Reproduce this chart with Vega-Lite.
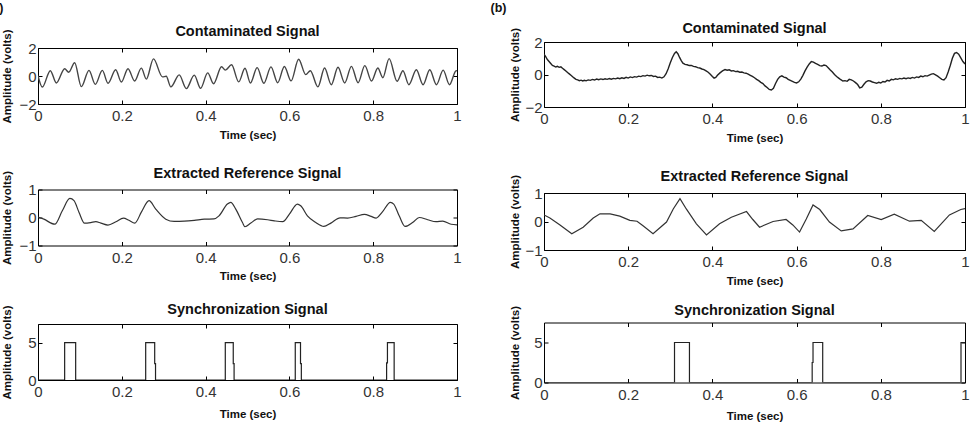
{
  "$schema": "https://vega.github.io/schema/vega-lite/v6.json",
  "padding": {"left": -12, "top": 0, "right": 0, "bottom": 0},
  "background": "#ffffff",
  "config": {
    "view": {"stroke": "#000000", "strokeWidth": 1},
    "axis": {"domain": false, "grid": false, "ticks": true, "tickSize": -4, "tickColor": "#000000", "tickWidth": 1, "minExtent": 0,
      "labelFont": "Liberation Sans", "labelFontSize": 15, "labelColor": "#333333", "labelFlush": false, "labelOverlap": false,
      "titleFont": "Liberation Sans", "titleFontSize": 11.5, "titleFontWeight": "bold", "titleColor": "#111111"},
    "axisX": {"labelPadding": 8.5, "titlePadding": 5.5},
    "axisY": {"labelPadding": 6, "titlePadding": 4},
    "title": {"font": "Liberation Sans", "fontSize": 14.5, "fontWeight": "bold", "color": "#111111"}
  },
  "datasets": {
    "ca": [
      {"t":0,"v":0.02},{"t":0.0103,"v":-0.79},{"t":0.0294,"v":0.38},{"t":0.0438,"v":-0.5},{"t":0.0636,"v":0.52},{"t":0.0732,"v":0.27},{"t":0.0875,"v":0.95},{"t":0.1034,"v":-0.76},{"t":0.1217,"v":0.4},{"t":0.1368,"v":-0.6},{"t":0.1535,"v":0.4},{"t":0.1671,"v":-0.52},{"t":0.1854,"v":0.45},{"t":0.1989,"v":-0.43},{"t":0.2148,"v":0.52},{"t":0.2307,"v":-0.36},{"t":0.2466,"v":0.56},{"t":0.2586,"v":-0.22},{"t":0.2755,"v":1.22},{"t":0.297,"v":-0.06},{"t":0.306,"v":-0.02},{"t":0.317,"v":-0.78},{"t":0.337,"v":0.08},{"t":0.354,"v":-0.9},{"t":0.373,"v":0.06},{"t":0.388,"v":-0.88},{"t":0.405,"v":0.22},{"t":0.419,"v":-0.55},{"t":0.438,"v":0.66},{"t":0.447,"v":0.42},{"t":0.462,"v":0.8},{"t":0.479,"v":-0.42},{"t":0.494,"v":0.55},{"t":0.507,"v":-0.5},{"t":0.523,"v":0.6},{"t":0.539,"v":-0.52},{"t":0.556,"v":0.65},{"t":0.572,"v":-0.48},{"t":0.588,"v":0.68},{"t":0.604,"v":-0.35},{"t":0.622,"v":1.2},{"t":0.639,"v":0.1},{"t":0.65,"v":0.38},{"t":0.668,"v":-0.78},{"t":0.684,"v":0.57},{"t":0.7,"v":-0.62},{"t":0.716,"v":0.62},{"t":0.732,"v":-0.5},{"t":0.748,"v":0.69},{"t":0.764,"v":-0.48},{"t":0.78,"v":0.74},{"t":0.796,"v":-0.36},{"t":0.811,"v":0.57},{"t":0.823,"v":-0.12},{"t":0.838,"v":1.24},{"t":0.857,"v":-0.38},{"t":0.871,"v":0.38},{"t":0.885,"v":-0.62},{"t":0.903,"v":0.45},{"t":0.919,"v":-0.62},{"t":0.935,"v":0.45},{"t":0.951,"v":-0.62},{"t":0.967,"v":0.42},{"t":0.982,"v":-0.62},{"t":0.998,"v":0.38},{"t":1,"v":0.36}
    ],
    "cb": [
      {"t":0,"v":1.25},{"t":0.004,"v":1.1},{"t":0.008,"v":0.92},{"t":0.012,"v":0.8},{"t":0.016,"v":0.68},{"t":0.02,"v":0.56},{"t":0.024,"v":0.52},{"t":0.028,"v":0.46},{"t":0.032,"v":0.5},{"t":0.036,"v":0.44},{"t":0.04,"v":0.47},{"t":0.044,"v":0.38},{"t":0.048,"v":0.3},{"t":0.052,"v":0.22},{"t":0.056,"v":0.12},{"t":0.06,"v":0.04},{"t":0.064,"v":-0.05},{"t":0.068,"v":-0.14},{"t":0.072,"v":-0.22},{"t":0.076,"v":-0.3},{"t":0.08,"v":-0.33},{"t":0.084,"v":-0.38},{"t":0.088,"v":-0.35},{"t":0.092,"v":-0.4},{"t":0.096,"v":-0.36},{"t":0.1,"v":-0.39},{"t":0.105,"v":-0.33},{"t":0.11,"v":-0.36},{"t":0.115,"v":-0.3},{"t":0.12,"v":-0.34},{"t":0.125,"v":-0.28},{"t":0.13,"v":-0.32},{"t":0.135,"v":-0.27},{"t":0.14,"v":-0.31},{"t":0.145,"v":-0.26},{"t":0.15,"v":-0.3},{"t":0.155,"v":-0.25},{"t":0.16,"v":-0.29},{"t":0.165,"v":-0.24},{"t":0.17,"v":-0.27},{"t":0.175,"v":-0.22},{"t":0.18,"v":-0.26},{"t":0.185,"v":-0.2},{"t":0.19,"v":-0.24},{"t":0.195,"v":-0.17},{"t":0.2,"v":-0.22},{"t":0.205,"v":-0.15},{"t":0.21,"v":-0.19},{"t":0.215,"v":-0.13},{"t":0.22,"v":-0.16},{"t":0.225,"v":-0.1},{"t":0.23,"v":-0.13},{"t":0.235,"v":-0.07},{"t":0.24,"v":-0.1},{"t":0.245,"v":-0.04},{"t":0.25,"v":-0.08},{"t":0.255,"v":-0.06},{"t":0.26,"v":-0.12},{"t":0.265,"v":-0.1},{"t":0.27,"v":-0.18},{"t":0.275,"v":-0.16},{"t":0.28,"v":-0.22},{"t":0.285,"v":-0.14},{"t":0.29,"v":0.05},{"t":0.295,"v":0.35},{"t":0.3,"v":0.72},{"t":0.305,"v":1.05},{"t":0.31,"v":1.3},{"t":0.314,"v":1.4},{"t":0.318,"v":1.28},{"t":0.322,"v":1.05},{"t":0.326,"v":0.85},{"t":0.33,"v":0.7},{"t":0.335,"v":0.62},{"t":0.34,"v":0.6},{"t":0.345,"v":0.55},{"t":0.35,"v":0.56},{"t":0.355,"v":0.5},{"t":0.36,"v":0.48},{"t":0.365,"v":0.42},{"t":0.37,"v":0.4},{"t":0.375,"v":0.34},{"t":0.38,"v":0.3},{"t":0.385,"v":0.22},{"t":0.39,"v":0.14},{"t":0.395,"v":0.02},{"t":0.4,"v":-0.12},{"t":0.404,"v":-0.22},{"t":0.408,"v":-0.18},{"t":0.412,"v":-0.05},{"t":0.418,"v":0.1},{"t":0.424,"v":0.22},{"t":0.43,"v":0.3},{"t":0.435,"v":0.26},{"t":0.44,"v":0.29},{"t":0.445,"v":0.22},{"t":0.45,"v":0.24},{"t":0.455,"v":0.18},{"t":0.46,"v":0.2},{"t":0.465,"v":0.14},{"t":0.47,"v":0.15},{"t":0.475,"v":0.1},{"t":0.48,"v":0.08},{"t":0.485,"v":0.02},{"t":0.49,"v":-0.05},{"t":0.495,"v":-0.12},{"t":0.5,"v":-0.2},{"t":0.505,"v":-0.3},{"t":0.51,"v":-0.38},{"t":0.515,"v":-0.48},{"t":0.52,"v":-0.56},{"t":0.525,"v":-0.7},{"t":0.53,"v":-0.8},{"t":0.535,"v":-0.92},{"t":0.54,"v":-0.95},{"t":0.545,"v":-0.85},{"t":0.55,"v":-0.55},{"t":0.555,"v":-0.3},{"t":0.56,"v":-0.14},{"t":0.565,"v":-0.08},{"t":0.57,"v":-0.16},{"t":0.575,"v":-0.2},{"t":0.58,"v":-0.3},{"t":0.585,"v":-0.36},{"t":0.59,"v":-0.42},{"t":0.595,"v":-0.48},{"t":0.6,"v":-0.52},{"t":0.605,"v":-0.45},{"t":0.61,"v":-0.28},{"t":0.615,"v":-0.05},{"t":0.62,"v":0.22},{"t":0.625,"v":0.45},{"t":0.63,"v":0.65},{"t":0.635,"v":0.8},{"t":0.64,"v":0.76},{"t":0.645,"v":0.68},{"t":0.65,"v":0.62},{"t":0.655,"v":0.55},{"t":0.66,"v":0.52},{"t":0.665,"v":0.58},{"t":0.67,"v":0.55},{"t":0.675,"v":0.42},{"t":0.68,"v":0.28},{"t":0.685,"v":0.15},{"t":0.69,"v":0},{"t":0.695,"v":-0.12},{"t":0.7,"v":-0.22},{"t":0.705,"v":-0.32},{"t":0.71,"v":-0.4},{"t":0.715,"v":-0.38},{"t":0.72,"v":-0.42},{"t":0.725,"v":-0.3},{"t":0.73,"v":-0.33},{"t":0.735,"v":-0.4},{"t":0.74,"v":-0.5},{"t":0.745,"v":-0.62},{"t":0.75,"v":-0.82},{"t":0.755,"v":-0.78},{"t":0.76,"v":-0.6},{"t":0.765,"v":-0.45},{"t":0.77,"v":-0.38},{"t":0.775,"v":-0.4},{"t":0.78,"v":-0.46},{"t":0.785,"v":-0.5},{"t":0.79,"v":-0.54},{"t":0.795,"v":-0.48},{"t":0.8,"v":-0.52},{"t":0.805,"v":-0.43},{"t":0.81,"v":-0.46},{"t":0.815,"v":-0.36},{"t":0.82,"v":-0.4},{"t":0.825,"v":-0.3},{"t":0.83,"v":-0.33},{"t":0.835,"v":-0.26},{"t":0.84,"v":-0.3},{"t":0.845,"v":-0.24},{"t":0.85,"v":-0.27},{"t":0.855,"v":-0.22},{"t":0.86,"v":-0.26},{"t":0.865,"v":-0.21},{"t":0.87,"v":-0.24},{"t":0.875,"v":-0.18},{"t":0.88,"v":-0.22},{"t":0.885,"v":-0.15},{"t":0.89,"v":-0.18},{"t":0.895,"v":-0.1},{"t":0.9,"v":-0.14},{"t":0.905,"v":-0.07},{"t":0.91,"v":-0.1},{"t":0.915,"v":-0.04},{"t":0.92,"v":0.02},{"t":0.925,"v":0.05},{"t":0.93,"v":-0.02},{"t":0.935,"v":-0.1},{"t":0.94,"v":-0.2},{"t":0.945,"v":-0.3},{"t":0.95,"v":-0.34},{"t":0.955,"v":-0.2},{"t":0.96,"v":0.15},{"t":0.965,"v":0.55},{"t":0.97,"v":1},{"t":0.975,"v":1.3},{"t":0.98,"v":1.35},{"t":0.985,"v":1.25},{"t":0.99,"v":1.02},{"t":0.995,"v":0.8},{"t":1,"v":0.65}
    ],
    "ra": [
      {"t":0,"v":0.02},{"t":0.014,"v":-0.06},{"t":0.04,"v":-0.24},{"t":0.058,"v":0.24},{"t":0.076,"v":0.68},{"t":0.086,"v":0.6},{"t":0.098,"v":0.18},{"t":0.111,"v":-0.2},{"t":0.126,"v":-0.18},{"t":0.138,"v":-0.15},{"t":0.15,"v":-0.2},{"t":0.167,"v":-0.27},{"t":0.186,"v":-0.15},{"t":0.204,"v":-0.02},{"t":0.217,"v":-0.1},{"t":0.231,"v":-0.2},{"t":0.247,"v":0.2},{"t":0.265,"v":0.6},{"t":0.281,"v":0.3},{"t":0.305,"v":-0.06},{"t":0.325,"v":-0.14},{"t":0.349,"v":-0.13},{"t":0.373,"v":-0.1},{"t":0.397,"v":-0.06},{"t":0.42,"v":-0.05},{"t":0.432,"v":0.06},{"t":0.452,"v":0.48},{"t":0.46,"v":0.54},{"t":0.472,"v":0.3},{"t":0.488,"v":-0.18},{"t":0.494,"v":-0.33},{"t":0.508,"v":-0.2},{"t":0.524,"v":-0.05},{"t":0.548,"v":-0.08},{"t":0.564,"v":-0.12},{"t":0.584,"v":-0.15},{"t":0.6,"v":0.12},{"t":0.619,"v":0.48},{"t":0.627,"v":0.42},{"t":0.643,"v":0.06},{"t":0.663,"v":-0.18},{"t":0.682,"v":-0.32},{"t":0.699,"v":-0.2},{"t":0.721,"v":-0.01},{"t":0.739,"v":-0.02},{"t":0.759,"v":0.04},{"t":0.779,"v":0.11},{"t":0.795,"v":0.04},{"t":0.807,"v":-0.02},{"t":0.822,"v":0.2},{"t":0.841,"v":0.54},{"t":0.849,"v":0.48},{"t":0.862,"v":0.06},{"t":0.876,"v":-0.32},{"t":0.894,"v":-0.18},{"t":0.91,"v":0},{"t":0.93,"v":-0.08},{"t":0.95,"v":-0.15},{"t":0.966,"v":-0.13},{"t":0.986,"v":-0.24},{"t":1,"v":-0.26}
    ],
    "rb": [
      {"t":0,"v":0.23},{"t":0.014,"v":0.12},{"t":0.038,"v":-0.12},{"t":0.066,"v":-0.43},{"t":0.093,"v":-0.2},{"t":0.117,"v":0.12},{"t":0.133,"v":0.27},{"t":0.157,"v":0.27},{"t":0.18,"v":0.19},{"t":0.204,"v":0.04},{"t":0.221,"v":0.01},{"t":0.236,"v":-0.16},{"t":0.259,"v":-0.43},{"t":0.291,"v":-0.02},{"t":0.307,"v":0.44},{"t":0.323,"v":0.8},{"t":0.338,"v":0.44},{"t":0.362,"v":-0.08},{"t":0.386,"v":-0.47},{"t":0.417,"v":-0.08},{"t":0.445,"v":0.15},{"t":0.481,"v":0.35},{"t":0.496,"v":0.07},{"t":0.512,"v":-0.2},{"t":0.544,"v":0},{"t":0.575,"v":0.07},{"t":0.591,"v":-0.12},{"t":0.607,"v":-0.37},{"t":0.623,"v":0.09},{"t":0.639,"v":0.58},{"t":0.655,"v":0.42},{"t":0.678,"v":-0.02},{"t":0.706,"v":-0.33},{"t":0.734,"v":-0.26},{"t":0.769,"v":0.21},{"t":0.801,"v":0.07},{"t":0.832,"v":0.26},{"t":0.868,"v":0.01},{"t":0.896,"v":0.04},{"t":0.927,"v":-0.35},{"t":0.963,"v":0.23},{"t":0.99,"v":0.42},{"t":1,"v":0.45}
    ],
    "sa": [
      {"t":0,"v":0},{"t":0.0636,"v":0},{"t":0.0636,"v":5},{"t":0.0899,"v":5},{"t":0.0899,"v":0},
      {"t":0.257,"v":0},{"t":0.257,"v":5},{"t":0.2785,"v":5},{"t":0.2785,"v":2.2},{"t":0.2805,"v":2.2},{"t":0.2805,"v":0},
      {"t":0.447,"v":0},{"t":0.447,"v":5},{"t":0.466,"v":5},{"t":0.466,"v":2.2},{"t":0.468,"v":2.2},{"t":0.468,"v":0},
      {"t":0.614,"v":0},{"t":0.614,"v":5},{"t":0.6265,"v":5},{"t":0.6265,"v":2.2},{"t":0.6285,"v":2.2},{"t":0.6285,"v":0},
      {"t":0.832,"v":0},{"t":0.832,"v":2.3},{"t":0.834,"v":2.3},{"t":0.834,"v":5},{"t":0.85,"v":5},{"t":0.85,"v":0},
      {"t":1,"v":0}
    ],
    "sb": [
      {"t":0,"v":0},{"t":0.31,"v":0},{"t":0.31,"v":5},{"t":0.3455,"v":5},{"t":0.3455,"v":0},
      {"t":0.637,"v":0},{"t":0.637,"v":2.5},{"t":0.639,"v":2.5},{"t":0.639,"v":5},{"t":0.662,"v":5},{"t":0.662,"v":0},
      {"t":0.9905,"v":0},{"t":0.9905,"v":5},{"t":1,"v":5}
    ]
  },
  "columns": 2,
  "align": "none",
  "spacing": 28,
  "concat": [
    {
      "spacing": 8,
      "vconcat": [
        {
          "width": 1, "height": 1, "view": {"stroke": null},
          "data": {"values": [{"label": "(a)"}]},
          "mark": {"type": "text", "align": "left", "baseline": "top", "dx": -50.4, "dy": 1.5, "font": "Liberation Sans", "fontSize": 12.5, "fontWeight": "bold", "color": "#111111"},
          "encoding": {"text": {"field": "label", "type": "nominal"}}
        },
        {
          "spacing": 24.5,
          "vconcat": [
            {
              "width": 419, "height": 56,
              "title": {"text": "Contaminated Signal", "offset": -10},
              "data": {"name": "ca"},
              "layer": [
                {"mark": {"type": "line", "interpolate": "monotone", "color": "#444444", "strokeWidth": 1.4, "clip": true},
                 "encoding": {
                   "x": {"field": "t", "type": "quantitative", "scale": {"domain": [0, 1], "nice": false, "zero": false}, "axis": {"values": [0, 0.2, 0.4, 0.6, 0.8, 1], "format": "~g", "title": "Time (sec)"}},
                   "y": {"field": "v", "type": "quantitative", "scale": {"domain": [-2, 2], "nice": false}, "axis": {"values": [-2, 0, 2], "format": "~g", "title": "Amplitude (volts)", "titleX": -26}}}},
                {"mark": {"type": "line", "strokeOpacity": 0},
                 "encoding": {
                   "x": {"field": "t", "type": "quantitative", "axis": {"orient": "top", "values": [0, 0.2, 0.4, 0.6, 0.8, 1], "labels": false, "title": null}},
                   "y": {"field": "v", "type": "quantitative", "axis": {"orient": "right", "values": [-2, 0, 2], "labels": false, "title": null}}}}
              ],
              "resolve": {"axis": {"x": "independent", "y": "independent"}}
            },
            {
              "spacing": 18.5,
              "vconcat": [
                {
                  "width": 419, "height": 56,
                  "title": {"text": "Extracted Reference Signal", "offset": -11},
                  "data": {"name": "ra"},
                  "layer": [
                    {"mark": {"type": "line", "interpolate": "monotone", "color": "#333333", "strokeWidth": 1.2, "clip": true},
                     "encoding": {
                       "x": {"field": "t", "type": "quantitative", "scale": {"domain": [0, 1], "nice": false, "zero": false}, "axis": {"values": [0, 0.2, 0.4, 0.6, 0.8, 1], "format": "~g", "title": "Time (sec)"}},
                       "y": {"field": "v", "type": "quantitative", "scale": {"domain": [-1, 1], "nice": false}, "axis": {"values": [-1, 0, 1], "format": "~g", "title": "Amplitude (volts)", "titleX": -26}}}},
                    {"mark": {"type": "line", "strokeOpacity": 0},
                     "encoding": {
                       "x": {"field": "t", "type": "quantitative", "axis": {"orient": "top", "values": [0, 0.2, 0.4, 0.6, 0.8, 1], "labels": false, "title": null}},
                       "y": {"field": "v", "type": "quantitative", "axis": {"orient": "right", "values": [-1, 0, 1], "labels": false, "title": null}}}}
                  ],
                  "resolve": {"axis": {"x": "independent", "y": "independent"}}
                },
                {
                  "width": 419, "height": 56,
                  "title": {"text": "Synchronization Signal", "offset": -12.5},
                  "data": {"name": "sa"},
                  "layer": [
                    {"mark": {"type": "line", "color": "#222222", "strokeWidth": 1.2, "clip": true},
                     "encoding": {
                       "x": {"field": "t", "type": "quantitative", "scale": {"domain": [0, 1], "nice": false, "zero": false}, "axis": {"values": [0, 0.2, 0.4, 0.6, 0.8, 1], "format": "~g", "title": "Time (sec)", "titlePadding": 8.5}},
                       "y": {"field": "v", "type": "quantitative", "scale": {"domain": [0, 7.5], "nice": false}, "axis": {"values": [0, 5], "format": "~g", "title": "Amplitude (volts)", "titleX": -26}},
                       "order": {"value": 0}}},
                    {"mark": {"type": "line", "strokeOpacity": 0},
                     "encoding": {
                       "x": {"field": "t", "type": "quantitative", "axis": {"orient": "top", "values": [0, 0.2, 0.4, 0.6, 0.8, 1], "labels": false, "title": null}},
                       "y": {"field": "v", "type": "quantitative", "axis": {"orient": "right", "values": [0, 5], "labels": false, "title": null}}}}
                  ],
                  "resolve": {"axis": {"x": "independent", "y": "independent"}}
                }
              ]
            }
          ]
        }
      ]
    },
    {
      "spacing": 5,
      "vconcat": [
        {
          "width": 1, "height": 1, "view": {"stroke": null},
          "data": {"values": [{"label": "(b)"}]},
          "mark": {"type": "text", "align": "left", "baseline": "top", "dx": -54, "dy": 1.5, "font": "Liberation Sans", "fontSize": 12.5, "fontWeight": "bold", "color": "#111111"},
          "encoding": {"text": {"field": "label", "type": "nominal"}}
        },
        {
          "spacing": 24,
          "vconcat": [
            {
              "width": 421, "height": 65,
              "title": {"text": "Contaminated Signal", "offset": -8.5},
              "data": {"name": "cb"},
              "layer": [
                {"mark": {"type": "line", "color": "#222222", "strokeWidth": 1.4, "clip": true},
                 "encoding": {
                   "x": {"field": "t", "type": "quantitative", "scale": {"domain": [0, 1], "nice": false, "zero": false}, "axis": {"values": [0, 0.2, 0.4, 0.6, 0.8, 1], "format": "~g", "title": "Time (sec)"}},
                   "y": {"field": "v", "type": "quantitative", "scale": {"domain": [-2, 2], "nice": false}, "axis": {"values": [-2, 0, 2], "format": "~g", "title": "Amplitude (volts)", "titleX": -24}}}},
                {"mark": {"type": "line", "strokeOpacity": 0},
                 "encoding": {
                   "x": {"field": "t", "type": "quantitative", "axis": {"orient": "top", "values": [0, 0.2, 0.4, 0.6, 0.8, 1], "labels": false, "title": null}},
                   "y": {"field": "v", "type": "quantitative", "axis": {"orient": "right", "values": [-2, 0, 2], "labels": false, "title": null}}}}
              ],
              "resolve": {"axis": {"x": "independent", "y": "independent"}}
            },
            {
              "spacing": 14.5,
              "vconcat": [
                {
                  "width": 421, "height": 57,
                  "title": {"text": "Extracted Reference Signal", "offset": -9.5},
                  "data": {"name": "rb"},
                  "layer": [
                    {"mark": {"type": "line", "color": "#333333", "strokeWidth": 1.2, "clip": true},
                     "encoding": {
                       "x": {"field": "t", "type": "quantitative", "scale": {"domain": [0, 1], "nice": false, "zero": false}, "axis": {"values": [0, 0.2, 0.4, 0.6, 0.8, 1], "format": "~g", "title": "Time (sec)"}},
                       "y": {"field": "v", "type": "quantitative", "scale": {"domain": [-1, 1], "nice": false}, "axis": {"values": [-1, 0, 1], "format": "~g", "title": "Amplitude (volts)", "titleX": -24}}}},
                    {"mark": {"type": "line", "strokeOpacity": 0},
                     "encoding": {
                       "x": {"field": "t", "type": "quantitative", "axis": {"orient": "top", "values": [0, 0.2, 0.4, 0.6, 0.8, 1], "labels": false, "title": null}},
                       "y": {"field": "v", "type": "quantitative", "axis": {"orient": "right", "values": [-1, 0, 1], "labels": false, "title": null}}}}
                  ],
                  "resolve": {"axis": {"x": "independent", "y": "independent"}}
                },
                {
                  "width": 421, "height": 60,
                  "title": {"text": "Synchronization Signal", "offset": -12.5},
                  "data": {"name": "sb"},
                  "layer": [
                    {"mark": {"type": "line", "color": "#222222", "strokeWidth": 1.2, "clip": true},
                     "encoding": {
                       "x": {"field": "t", "type": "quantitative", "scale": {"domain": [0, 1], "nice": false, "zero": false}, "axis": {"values": [0, 0.2, 0.4, 0.6, 0.8, 1], "format": "~g", "title": "Time (sec)", "titlePadding": 8.5}},
                       "y": {"field": "v", "type": "quantitative", "scale": {"domain": [0, 7.5], "nice": false}, "axis": {"values": [0, 5], "format": "~g", "title": "Amplitude (volts)", "titleX": -24}},
                       "order": {"value": 0}}},
                    {"mark": {"type": "line", "strokeOpacity": 0},
                     "encoding": {
                       "x": {"field": "t", "type": "quantitative", "axis": {"orient": "top", "values": [0, 0.2, 0.4, 0.6, 0.8, 1], "labels": false, "title": null}},
                       "y": {"field": "v", "type": "quantitative", "axis": {"orient": "right", "values": [0, 5], "labels": false, "title": null}}}}
                  ],
                  "resolve": {"axis": {"x": "independent", "y": "independent"}}
                }
              ]
            }
          ]
        }
      ]
    }
  ]
}
